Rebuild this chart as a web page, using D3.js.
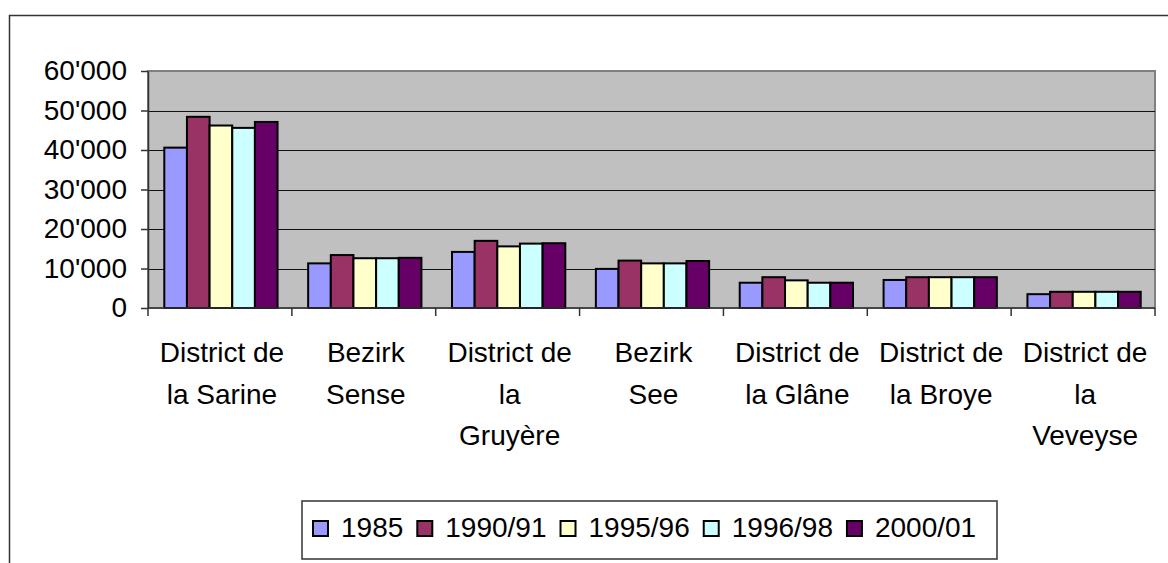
<!DOCTYPE html>
<html>
<head>
<meta charset="utf-8">
<script src="https://cdnjs.cloudflare.com/ajax/libs/d3/7.8.5/d3.min.js"></script>
<style>
  body { margin: 0; background: #fff; }
  svg { display: block; font-family: "Liberation Sans", Arial, sans-serif; }
</style>
</head>
<body>
<svg id="chart" width="1168" height="563"></svg>
<script>
// data
var categories = ["District de la Sarine", "Bezirk Sense", "District de la Gruyère", "Bezirk See",
                  "District de la Glâne", "District de la Broye", "District de la Veveyse"];
var categoryLines = [["District de", "la Sarine"], ["Bezirk", "Sense"], ["District de", "la", "Gruyère"],
                     ["Bezirk", "See"], ["District de", "la Glâne"], ["District de", "la Broye"],
                     ["District de", "la", "Veveyse"]];
var series = ["1985", "1990/91", "1995/96", "1996/98", "2000/01"];
var colors = ["#9999FF", "#993366", "#FFFFCC", "#CCFFFF", "#660066"];
var v1985   = [40600, 11300, 14200, 9900, 6400, 7100, 3500];
var v1990   = [48400, 13400, 17000, 12000, 7800, 7800, 4100];
var v1995   = [46200, 12600, 15600, 11300, 7000, 7800, 4100];
var v1996   = [45600, 12600, 16300, 11300, 6400, 7800, 4100];
var v2000   = [47100, 12700, 16400, 11900, 6400, 7800, 4100];
var values = [v1985, v1990, v1995, v1996, v2000];
var yTicks = [0, 10000, 20000, 30000, 40000, 50000, 60000];

var svg = d3.select("#chart");
var plot = {left: 148, top: 71, right: 1155, bottom: 308};

var locale = d3.formatLocale({decimal: ".", thousands: "'", grouping: [3], currency: ["", ""]});
var fmt = locale.format(",");

var x0 = d3.scaleBand().domain(categories).range([plot.left, plot.right]).padding(0);
var barW = x0.bandwidth() / 6.35;
var groupW = barW * series.length;
var x1 = d3.scaleBand().domain(series).range([0, groupW]).padding(0);
var y = d3.scaleLinear().domain([0, 60000]).range([plot.bottom, plot.top]);

// outer chart border (extends beyond the picture)
svg.append("rect")
  .attr("x", 9.5).attr("y", 15.5).attr("width", 1300).attr("height", 700)
  .attr("fill", "none").attr("stroke", "#333").attr("stroke-width", 1.5);

// plot area
svg.append("rect")
  .attr("x", plot.left).attr("y", plot.top)
  .attr("width", plot.right - plot.left).attr("height", plot.bottom - plot.top)
  .attr("fill", "#C0C0C0").attr("stroke", "#808080").attr("stroke-width", 2);

// gridlines
svg.append("g").selectAll("line")
  .data(yTicks.slice(1, -1))
  .enter().append("line")
  .attr("x1", plot.left).attr("x2", plot.right)
  .attr("y1", function(d) { return Math.round(y(d)) + 0.5; })
  .attr("y2", function(d) { return Math.round(y(d)) + 0.5; })
  .attr("stroke", "#111").attr("stroke-width", 1);

// bars
var groups = svg.append("g").selectAll("g")
  .data(categories)
  .enter().append("g")
  .attr("transform", function(d) {
    return "translate(" + (x0(d) + (x0.bandwidth() - groupW) / 2 + 1) + ",0)";
  });

groups.selectAll("rect")
  .data(function(d, i) { return series.map(function(s, j) { return {s: s, j: j, v: values[j][i]}; }); })
  .enter().append("rect")
  .attr("x", function(d) { return x1(d.s); })
  .attr("y", function(d) { return y(d.v); })
  .attr("width", x1.bandwidth())
  .attr("height", function(d) { return y(0) - y(d.v); })
  .attr("fill", function(d) { return colors[d.j]; })
  .attr("stroke", "#000").attr("stroke-width", 2);

// y axis
var yAxis = svg.append("g")
  .attr("transform", "translate(" + plot.left + ",0)")
  .call(d3.axisLeft(y).tickValues(yTicks).tickFormat(fmt).tickSizeInner(7).tickSizeOuter(0).tickPadding(14));
yAxis.select(".domain").attr("stroke", "#333").attr("stroke-width", 1.5);
yAxis.selectAll(".tick line").attr("stroke", "#333").attr("stroke-width", 1.5);
yAxis.selectAll(".tick text").attr("font-size", 28).attr("fill", "#000")
  .attr("font-family", "Liberation Sans, Arial, sans-serif");

// x axis line + ticks at band boundaries
svg.append("line")
  .attr("x1", plot.left).attr("x2", plot.right)
  .attr("y1", plot.bottom).attr("y2", plot.bottom)
  .attr("stroke", "#333").attr("stroke-width", 1.5);
var bounds = categories.map(function(c) { return x0(c); }).concat([plot.right]);
svg.append("g").selectAll("line")
  .data(bounds)
  .enter().append("line")
  .attr("x1", function(d) { return d; }).attr("x2", function(d) { return d; })
  .attr("y1", plot.bottom).attr("y2", plot.bottom + 8)
  .attr("stroke", "#333").attr("stroke-width", 1.5);

// category labels
var labels = svg.append("g").selectAll("text")
  .data(categories)
  .enter().append("text")
  .attr("text-anchor", "middle")
  .attr("font-size", 28)
  .attr("fill", "#000");
labels.each(function(d, i) {
  var t = d3.select(this);
  categoryLines[i].forEach(function(line, k) {
    t.append("tspan")
      .attr("x", x0(d) + x0.bandwidth() / 2 + 2)
      .attr("y", 362 + k * 41.6)
      .text(line);
  });
});

// legend
var legend = svg.append("g");
legend.append("rect")
  .attr("x", 302).attr("y", 501).attr("width", 695).attr("height", 58)
  .attr("fill", "#fff").attr("stroke", "#333").attr("stroke-width", 1.5);
var lx = 313;
series.forEach(function(s, j) {
  legend.append("rect")
    .attr("x", lx).attr("y", 521).attr("width", 15).attr("height", 15)
    .attr("fill", colors[j]).attr("stroke", "#000").attr("stroke-width", 2);
  var t = legend.append("text")
    .attr("x", lx + 28).attr("y", 537)
    .attr("font-size", 28).attr("fill", "#000")
    .text(s);
  lx = lx + 28 + t.node().getComputedTextLength() + 14;
});
</script>
</body>
</html>
